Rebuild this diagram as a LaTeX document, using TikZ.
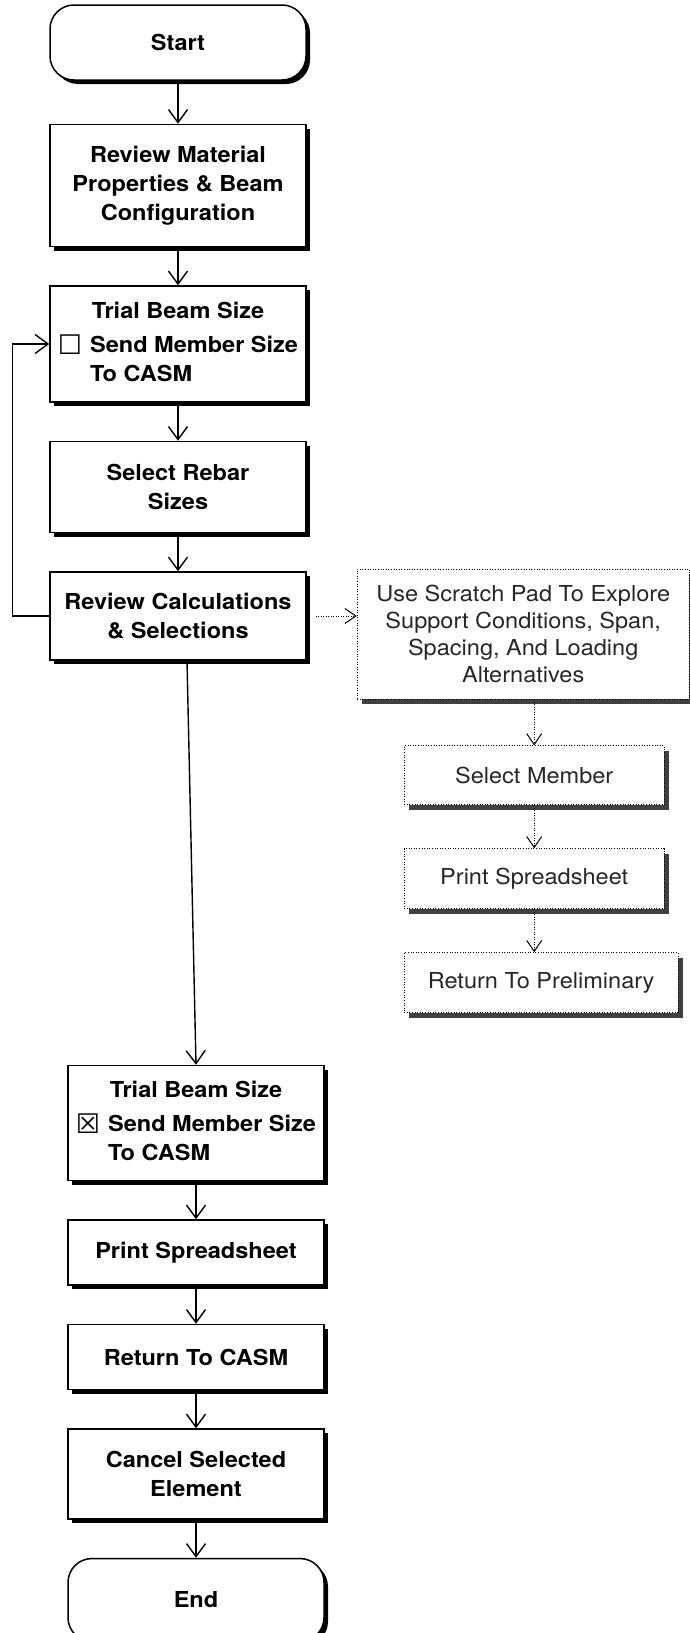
\documentclass[tikz,border=0pt]{standalone}
\usepackage{fontspec}
\setmainfont{TeX Gyre Heros}[FakeStretch=1.07]
\newfontfamily\boxsym{DejaVu Sans}
\usetikzlibrary{positioning, arrows.meta, shadows}

% ballot boxes for the CASM option
\newcommand{\chkoff}{\raisebox{-2pt}{\boxsym\fontsize{27}{29}\selectfont\char"2610}}
\newcommand{\chkon}{\raisebox{-2pt}{\boxsym\fontsize{27}{29}\selectfont\char"2612}}

\begin{document}
\begin{tikzpicture}[
  x=1pt, y=1pt,
  node distance=38pt and 50pt,
  stepbox/.style={draw, line width=1.5pt, fill=white, align=center, minimum width=256pt,
                  font=\fontsize{22}{29}\selectfont\bfseries,
                  drop shadow={shadow xshift=4pt, shadow yshift=-4pt, fill=black, opacity=1}},
  termbox/.style={stepbox, rounded corners=24pt},
  padbox/.style={draw, line width=0.9pt, dash pattern=on 1pt off 1.6pt, fill=white,
                 align=center, text=black!85, font=\fontsize{22}{27}\selectfont,
                 drop shadow={shadow xshift=5pt, shadow yshift=-5pt, fill=black!75, opacity=1}},
  arrow/.style={-{Straight Barb[length=13pt, width=19pt, line width=1.4pt]}, line width=1.4pt},
  padarrow/.style={-{Straight Barb[length=11pt, width=15pt, line width=1pt]}, line width=0.9pt,
                   dash pattern=on 1pt off 1.5pt}
]
  \useasboundingbox (0,0) rectangle (689,-1633);

  % main path
  \node[termbox, minimum height=75pt] (start) at (178,-42.5) {Start};
  \node[stepbox, minimum height=122pt, below=43pt of start] (review) {Review Material\\Properties \& Beam\\Configuration};
  \node[stepbox, minimum height=116pt, below=of review] (trial) {%
    \begin{tabular}{@{}l@{\hspace{8pt}}l@{}}
      \multicolumn{2}{c}{Trial Beam Size}\\[5pt]
      \chkoff & Send Member Size\\
              & To CASM
    \end{tabular}};
  \node[stepbox, minimum height=91pt, below=of trial] (rebar) {Select Rebar\\Sizes};
  \node[stepbox, minimum height=88pt, below=of rebar] (revcalc) {Review Calculations\\\& Selections};

  \node[stepbox, minimum height=115pt, below=404pt of revcalc, xshift=18pt] (trialb) {%
    \begin{tabular}{@{}l@{\hspace{8pt}}l@{}}
      \multicolumn{2}{c}{Trial Beam Size}\\[5pt]
      \chkon & Send Member Size\\
             & To CASM
    \end{tabular}};
  \node[stepbox, minimum height=65pt, below=of trialb] (printb) {Print Spreadsheet};
  \node[stepbox, minimum height=65pt, below=of printb] (retcasm) {Return To CASM};
  \node[stepbox, minimum height=90pt, below=of retcasm] (cancel) {Cancel Selected\\Element};
  \node[termbox, minimum height=83pt, below=of cancel] (finish) {End};

  % scratch pad branch
  \node[padbox, minimum width=332pt, minimum height=130pt, right=50pt of revcalc, yshift=-18pt] (scratch)
    {Use Scratch Pad To Explore\\Support Conditions, Span,\\Spacing, And Loading\\Alternatives};
  \node[padbox, minimum width=260pt, minimum height=59pt, below=46pt of scratch, xshift=11pt] (selmem) {Select Member};
  \node[padbox, minimum width=260pt, minimum height=60pt, below=43pt of selmem] (printr) {Print Spreadsheet};
  \node[padbox, minimum width=274pt, minimum height=60pt, below=43pt of printr, xshift=7pt] (retprel) {Return To Preliminary};

  \coordinate[left=37pt of revcalc.west] (loopcorner);

  \draw[arrow] (start) -- (review);
  \draw[arrow] (review) -- (trial);
  \draw[arrow] (trial) -- (rebar);
  \draw[arrow] (rebar) -- (revcalc);
  \draw[arrow] (revcalc.west) -- (loopcorner) |- (trial.west);
  \draw[arrow] ([xshift=9pt]revcalc.south) -- (trialb.north);
  \draw[arrow] (trialb) -- (printb);
  \draw[arrow] (printb) -- (retcasm);
  \draw[arrow] (retcasm) -- (cancel);
  \draw[arrow] (cancel) -- (finish);

  \draw[padarrow, shorten <=9pt] (revcalc.east) -- (revcalc.east -| scratch.west);
  \draw[padarrow] (selmem.north |- scratch.south) -- (selmem.north);
  \draw[padarrow] (printr.north |- selmem.south) -- (printr.north);
  \draw[padarrow] (printr.south) -- (printr.south |- retprel.north);
\end{tikzpicture}
\end{document}
